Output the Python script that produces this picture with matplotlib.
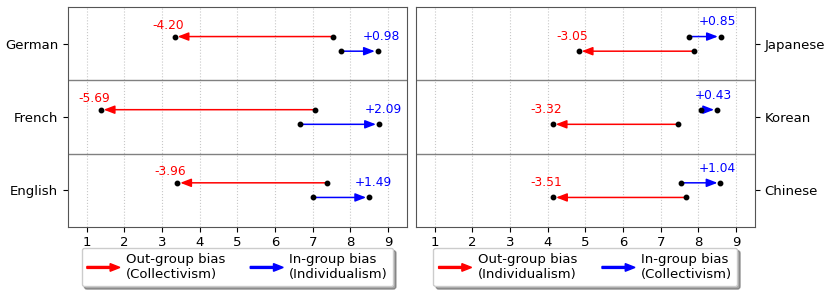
import matplotlib
matplotlib.use("Agg")
from matplotlib import pyplot as plt
import matplotlib.patches as mpatches
from matplotlib.legend_handler import HandlerPatch

# values
left_langs = ["German", "French", "English"]
left_out_start = [7.54, 7.07, 7.37]
left_out_diff = [-4.20, -5.69, -3.96]
left_in_start = [7.74, 6.66, 7.00]
left_in_diff = [0.98, 2.09, 1.49]

right_langs = ["Japanese", "Korean", "Chinese"]
right_out_start = [7.88, 7.46, 7.66]
right_out_diff = [-3.05, -3.32, -3.51]
right_in_start = [7.74, 8.06, 7.54]
right_in_diff = [0.85, 0.43, 1.04]

xticks = [1, 2, 3, 4, 5, 6, 7, 8, 9]


def make_legend_arrow(legend, orig_handle, xdescent, ydescent, width, height, fontsize):
    return mpatches.FancyArrow(-xdescent, height / 2 - ydescent, width, 0,
                               width=1.4, head_width=5.5, head_length=7,
                               length_includes_head=True)


def draw_panel(ax, langs, out_start, out_diff, in_start, in_diff, out_top, legend_labels):
    n = len(langs)
    for i in range(n):
        row = n - 1 - i
        if out_top:
            y_out, y_in = row + 0.1, row - 0.1
            out_lab_dy = 0.155
        else:
            y_out, y_in = row - 0.1, row + 0.1
            out_lab_dy = 0.2
        o_end = out_start[i] + out_diff[i]
        b_end = in_start[i] + in_diff[i]

        ax.annotate("", xy=(o_end, y_out), xytext=(out_start[i], y_out),
                    arrowprops=dict(arrowstyle="-|>,head_length=0.65,head_width=0.25",
                                    color="red", lw=1.1, mutation_scale=10,
                                    shrinkA=0, shrinkB=2))
        ax.annotate("", xy=(b_end, y_in), xytext=(in_start[i], y_in),
                    arrowprops=dict(arrowstyle="-|>,head_length=0.65,head_width=0.25",
                                    color="blue", lw=1.1, mutation_scale=10,
                                    shrinkA=0, shrinkB=2))
        ax.plot([out_start[i], o_end], [y_out, y_out], "o", color="black", ms=3.2, zorder=5)
        ax.plot([in_start[i], b_end], [y_in, y_in], "o", color="black", ms=3.2, zorder=5)

        ax.text(o_end - 0.18, y_out + out_lab_dy, f"{out_diff[i]:+.2f}", color="red",
                fontsize=8.8, ha="center", va="center")
        blue_dx = 0.11 if out_top else -0.085
        ax.text(b_end + blue_dx, y_in + 0.2, f"{in_diff[i]:+.2f}", color="blue",
                fontsize=8.8, ha="center", va="center")

    for s in [0.5, 1.5]:
        ax.axhline(s, color="gray", lw=1)

    ax.set_xlim(0.5, 9.5)
    ax.set_ylim(-0.5, n - 0.5)
    ax.set_xticks(xticks)
    ax.set_yticks(range(n))
    ax.set_yticklabels(langs[::-1])
    ax.tick_params(labelsize=9.5)
    ax.grid(axis="x", linestyle=":", color="#c8c8c8", lw=0.8)
    ax.set_axisbelow(True)
    for sp in ax.spines.values():
        sp.set_color("#555555")

    red_h = mpatches.Patch(color="red", label=legend_labels[0])
    blue_h = mpatches.Patch(color="blue", label=legend_labels[1])
    ax.legend(handles=[red_h, blue_h], loc="upper center", bbox_to_anchor=(0.5, -0.066),
              ncol=2, fontsize=9.5, shadow=True, handlelength=2.5, handletextpad=0.45,
              columnspacing=1.9,
              handler_map={mpatches.Patch: HandlerPatch(patch_func=make_legend_arrow)})


fig = plt.figure(figsize=(8.3, 2.97), dpi=100)
ax1 = fig.add_axes([0.0816, 0.2367, 0.4088, 0.7387])
ax2 = fig.add_axes([0.5008, 0.2367, 0.4088, 0.7387])

draw_panel(ax1, left_langs, left_out_start, left_out_diff, left_in_start, left_in_diff, True,
           ["Out-group bias\n(Collectivism)", "In-group bias\n(Individualism)"])
draw_panel(ax2, right_langs, right_out_start, right_out_diff, right_in_start, right_in_diff, False,
           ["Out-group bias\n(Individualism)", "In-group bias\n(Collectivism)"])
ax2.yaxis.tick_right()

fig.savefig("out.png", dpi=100)
